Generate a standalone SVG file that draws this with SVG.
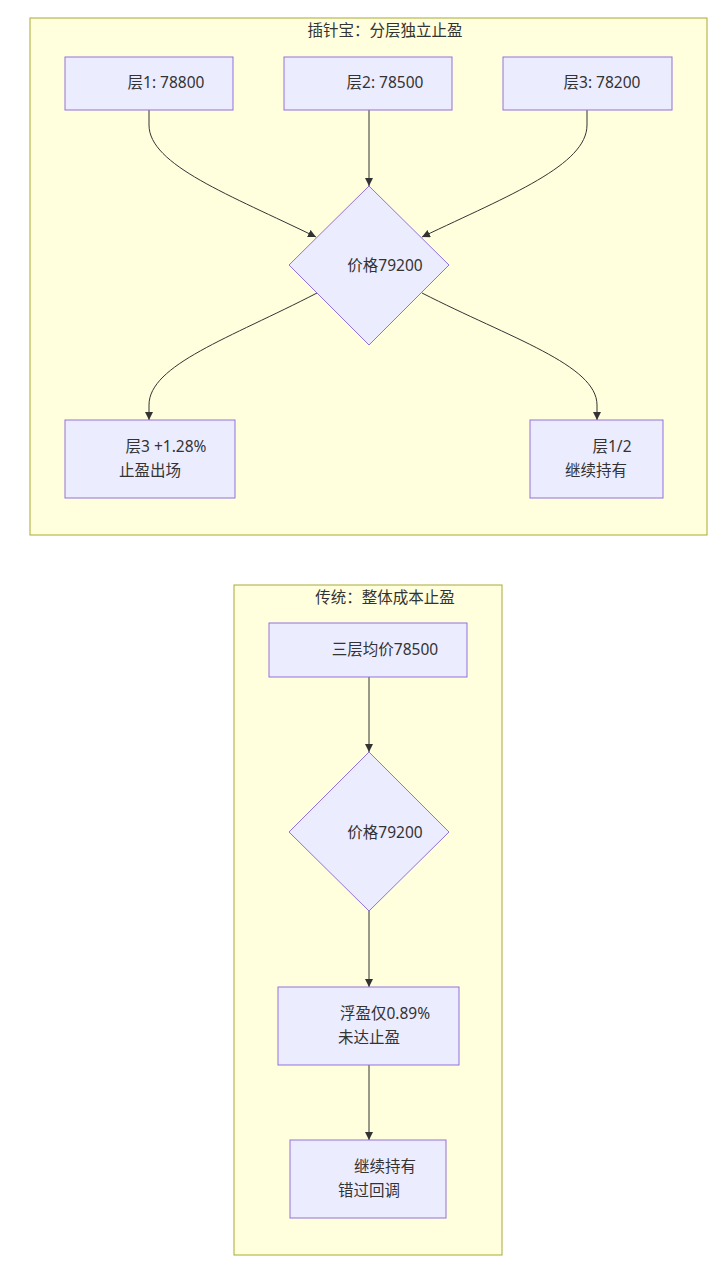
<svg xmlns="http://www.w3.org/2000/svg" width="726" height="1284" viewBox="0 0 726 1284">
<defs>
<style>
.cluster{fill:#ffffde;stroke:#aaaa33;stroke-width:1}
.node{fill:#ececff;stroke:#9370db;stroke-width:1}
.t{font-family:"Noto Sans","Noto Sans CJK SC",sans-serif;font-size:15.5px;fill:#333}
.edge{fill:none;stroke:#333;stroke-width:1}
</style>
<marker id="arr" viewBox="0 0 10 10" refX="10" refY="5" markerWidth="8" markerHeight="8" markerUnits="userSpaceOnUse" orient="auto">
<path d="M0,0 L10,5 L0,10 z" fill="#333"/>
</marker>
</defs>
<rect width="726" height="1284" fill="#ffffff"/>
<g id="cluster-a">
<rect class="cluster" x="30" y="18" width="677" height="517"/>
<text class="t" x="385" y="36" text-anchor="middle">插针宝：分层独立止盈</text>
</g>
<g id="cluster-b">
<rect class="cluster" x="234" y="585" width="268" height="670"/>
<text class="t" x="385" y="603" text-anchor="middle">传统：整体成本止盈</text>
</g>
<g id="edges">
<path class="edge" d="M149,110 L149,125 C149,165 230,195 316,237" marker-end="url(#arr)"/>
<path class="edge" d="M369,110 L369,186" marker-end="url(#arr)"/>
<path class="edge" d="M587,110 L587,125 C587,165 510,195 422,237" marker-end="url(#arr)"/>
<path class="edge" d="M317,293 C230,338 149,365 149,405 L149,420" marker-end="url(#arr)"/>
<path class="edge" d="M422,293 C510,338 597,365 597,405 L597,420" marker-end="url(#arr)"/>
<path class="edge" d="M369,677 L369,752" marker-end="url(#arr)"/>
<path class="edge" d="M369,911 L369,987" marker-end="url(#arr)"/>
<path class="edge" d="M369,1065 L369,1140" marker-end="url(#arr)"/>
</g>
<g id="n-l1">
<rect class="node" x="65" y="57" width="168" height="53"/>
<text class="t" x="166" y="88" text-anchor="middle">层1: 78800</text>
</g>
<g id="n-l2">
<rect class="node" x="284" y="57" width="168" height="53"/>
<text class="t" x="385" y="88" text-anchor="middle">层2: 78500</text>
</g>
<g id="n-l3">
<rect class="node" x="503" y="57" width="169" height="53"/>
<text class="t" x="602" y="88" text-anchor="middle">层3: 78200</text>
</g>
<g id="n-price1">
<polygon class="node" points="369,186 449,265 369,345 289,265"/>
<text class="t" x="385" y="271" text-anchor="middle">价格79200</text>
</g>
<g id="n-exit">
<rect class="node" x="65" y="420" width="170" height="78"/>
<text class="t" x="166" y="452" text-anchor="middle">层3 +1.28%</text>
<text class="t" x="150" y="476" text-anchor="middle">止盈出场</text>
</g>
<g id="n-hold1">
<rect class="node" x="530" y="420" width="133" height="78"/>
<text class="t" x="612" y="452" text-anchor="middle">层1/2</text>
<text class="t" x="596" y="476" text-anchor="middle">继续持有</text>
</g>
<g id="n-avg">
<rect class="node" x="269" y="623" width="198" height="54"/>
<text class="t" x="385" y="655" text-anchor="middle">三层均价78500</text>
</g>
<g id="n-price2">
<polygon class="node" points="369,752 449,832 369,911 289,832"/>
<text class="t" x="385" y="838" text-anchor="middle">价格79200</text>
</g>
<g id="n-float">
<rect class="node" x="278" y="987" width="181" height="78"/>
<text class="t" x="385" y="1019" text-anchor="middle">浮盈仅0.89%</text>
<text class="t" x="369" y="1043" text-anchor="middle">未达止盈</text>
</g>
<g id="n-hold2">
<rect class="node" x="290" y="1140" width="156" height="78"/>
<text class="t" x="385" y="1172" text-anchor="middle">继续持有</text>
<text class="t" x="369" y="1196" text-anchor="middle">错过回调</text>
</g>
</svg>
